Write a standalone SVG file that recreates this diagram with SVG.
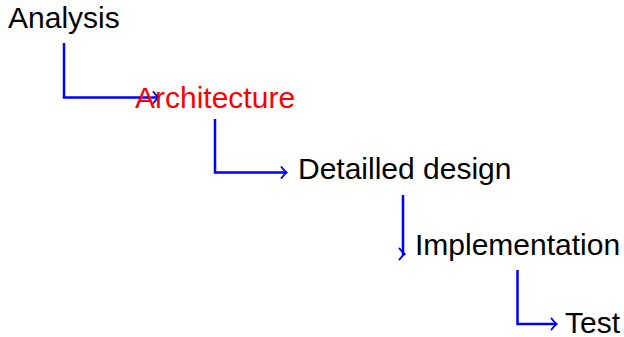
<svg xmlns="http://www.w3.org/2000/svg" width="624" height="337" viewBox="0 0 624 337">
  <style>
    .label { font-family: "Liberation Sans", Arial, sans-serif; font-size: 30px; fill: #000; }
    .active { fill: #ff0000; }
    .flow { fill: none; stroke: #0000ff; stroke-width: 2.5; }
  </style>
  <defs>
    <marker id="tip" viewBox="-6 -6 8 12" refX="0" refY="0" markerUnits="userSpaceOnUse" markerWidth="8" markerHeight="12" orient="auto" overflow="visible">
      <path d="M -4.5 -5.5 Q -1 -1 0.8 0 Q -1 1 -4.5 5.5" fill="none" stroke="#0000ff" stroke-width="2" stroke-linecap="round" stroke-linejoin="round"/>
    </marker>
  </defs>

  <rect width="624" height="337" fill="#ffffff"/>

  <g id="connectors">
    <path class="flow" d="M 64 43 V 97.5 H 158" marker-end="url(#tip)"/>
    <path class="flow" d="M 215 119 V 172.5 H 286" marker-end="url(#tip)"/>
    <path class="flow" d="M 403 195 V 254 H 404" marker-end="url(#tip)"/>
    <path class="flow" d="M 517.5 270 V 324 H 556" marker-end="url(#tip)"/>
  </g>

  <g id="analysis"><text class="label" x="8" y="28">Analysis</text></g>
  <g id="architecture"><text class="label active" x="135" y="108">Architecture</text></g>
  <g id="detailled-design"><text class="label" x="298" y="179">Detailled design</text></g>
  <g id="implementation"><text class="label" x="415" y="255">Implementation</text></g>
  <g id="test"><text class="label" x="565" y="333">Test</text></g>
</svg>
